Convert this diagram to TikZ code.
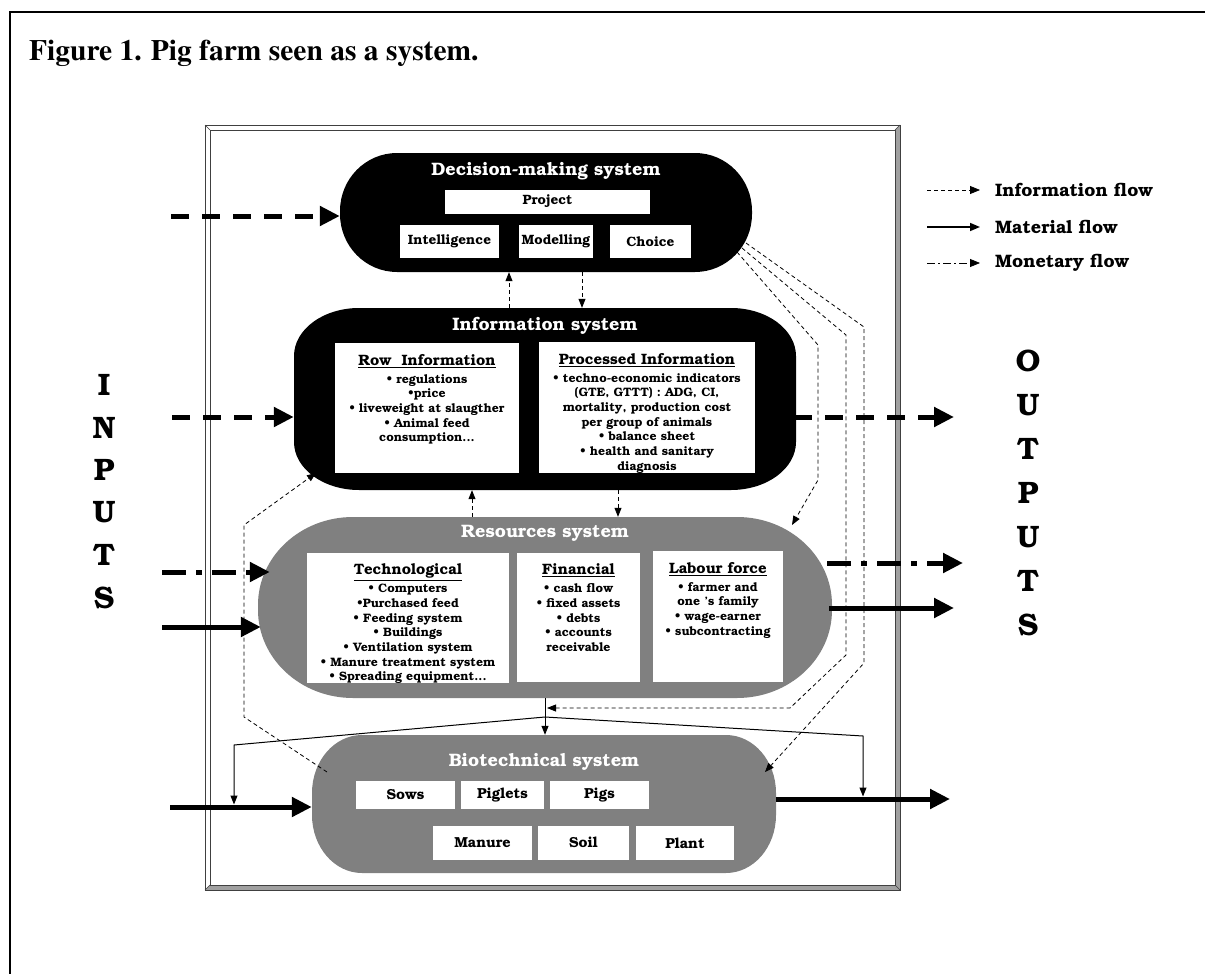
\documentclass[tikz,border=0pt]{standalone}
\usepackage[T1]{fontenc}
\usepackage{textcomp}
\usetikzlibrary{arrows.meta}
\newcommand\bkfont[2]{\fontfamily{pbk}\fontseries{b}\fontsize{#1}{#2}\selectfont}
% stadium with elliptical corners: x1 y1 x2 y2 rx ry style
\newcommand\ellrect[7]{%
  \fill[#7] (#1+#5,#2) -- (#3-#5,#2)
    .. controls (#3-0.4477*#5,#2) and (#3,#2+0.4477*#6) .. (#3,#2+#6) -- (#3,#4-#6)
    .. controls (#3,#4-0.4477*#6) and (#3-0.4477*#5,#4) .. (#3-#5,#4) -- (#1+#5,#4)
    .. controls (#1+0.4477*#5,#4) and (#1,#4-0.4477*#6) .. (#1,#4-#6) -- (#1,#2+#6)
    .. controls (#1,#2+0.4477*#6) and (#1+0.4477*#5,#2) .. (#1+#5,#2) -- cycle;}
\definecolor{sysgray}{HTML}{808080}
\definecolor{framegray}{HTML}{A0A0A0}
\tikzset{
  sysanchor/.style={draw=none, fill=none, inner sep=0pt},
  blackfill/.style={fill=black},
  grayfill/.style={fill=sysgray},
  wbox/.style={fill=white, draw=none, inner sep=0pt, font=\bkfont{13.5}{16}},
  biobox/.style={wbox, font=\bkfont{14.5}{17}},
  systitle/.style={text=white, inner sep=0pt, font=\bkfont{18}{21}},
  boxtext/.style={inner sep=0pt, align=center, anchor=north, font=\bkfont{12.2}{14.7}},
  boxhead/.style={},
  bigflow/.style={line width=5pt, -{Triangle[length=20pt,width=19pt]}},
  bigdash/.style={bigflow, dash pattern=on 18pt off 13pt},
  bigdashdot/.style={bigflow, dash pattern=on 24pt off 10pt on 6pt off 10pt},
  infoarrow/.style={line width=0.8pt, dash pattern=on 4pt off 3pt, -{Triangle[length=9pt,width=7pt]}},
  matarrow/.style={line width=1pt, -{Triangle[length=9pt,width=7pt]}},
  legdash/.style={line width=0.8pt, dash pattern=on 4pt off 3pt, -{Triangle[length=10pt,width=8pt]}},
  legsolid/.style={line width=1.6pt, -{Triangle[length=10pt,width=8pt]}},
  legdashdot/.style={line width=0.8pt, dash pattern=on 8pt off 3pt on 2pt off 3pt, -{Triangle[length=10pt,width=8pt]}},
  legtext/.style={anchor=west, inner sep=0pt, font=\bkfont{18}{21}},
  bigletter/.style={inner sep=0pt, font=\bkfont{31}{36}},
}
\newcommand\headline[1]{{\bkfont{15}{18}\underline{#1}}}
\begin{document}
\begin{tikzpicture}[x=1pt,y=-1pt]
\useasboundingbox (0,0) rectangle (1205,974);
\fill[white] (0,0) rectangle (1205,974);
% outer frame (cropped)
\draw[line width=2pt] (10,974) -- (10,12) -- (1205,12);
\node[anchor=base west, inner sep=0pt, font=\fontfamily{ptm}\fontseries{b}\fontsize{29.5}{34}\selectfont] (title) at (29,61) {Figure 1. Pig farm seen as a system.};

% bevelled inner frame
\fill[white] (205,125) -- (900,125) -- (895,130) -- (210,130) -- cycle;
\fill[white] (205,125) -- (210,130) -- (210,885) -- (205,890) -- cycle;
\fill[framegray] (205,890) -- (900,890) -- (895,885) -- (210,885) -- cycle;
\fill[framegray] (900,125) -- (900,890) -- (895,885) -- (895,130) -- cycle;
\draw[black!75, line width=0.9pt] (205,125) rectangle (900,890);
\draw[black!75, line width=0.9pt] (210,130) rectangle (895,885);
\draw[black!75, line width=0.6pt] (205,125) -- (210,130) (900,125) -- (895,130) (205,890) -- (210,885) (900,890) -- (895,885);

% system shapes
\ellrect{340}{153}{752}{272}{57}{58}{blackfill}
\ellrect{294}{308}{796}{490}{65}{48}{blackfill}
\ellrect{258}{517}{832}{698}{95}{88}{grayfill}
\ellrect{312}{735}{776}{873}{50}{58}{grayfill}

% Decision-making system
\node[sysanchor, minimum width=412, minimum height=119] (dec) at (546,212.5) {};
\node[systitle] (dect) at (546,171) {Decision-making system};
\node[wbox, minimum width=205, minimum height=24] (proj) at (547.5,201.5) {Project};
\node[wbox, minimum width=99, minimum height=33] (intel) at (449.5,241.5) {Intelligence};
\node[wbox, minimum width=74, minimum height=33] (model) at (556,241.5) {Modelling};
\node[wbox, minimum width=81, minimum height=33] (choice) at (650.5,241.5) {Choice};

% Information system
\node[sysanchor, minimum width=502, minimum height=182] (info) at (545,399) {};
\node[systitle] (infot) at (545,326) {Information system};
\node[wbox, minimum width=184, minimum height=130] (rowb) at (427,408) {};
\node[wbox, minimum width=216, minimum height=131] (procb) at (647,407.5) {};
\node[boxtext] (rowt) at (427,354) {\headline{Row\ \ Information}\\[3pt]
\textbullet\ regulations\\ \textbullet price\\ \textbullet\ liveweight at slaugther\\ \textbullet\ Animal feed\\ consumption...};
\node[boxtext] (proct) at (647,353) {\headline{Processed Information}\\[3pt]
\textbullet\ techno-economic indicators\\ (GTE, GTTT) : ADG, CI,\\ mortality, production cost\\ per group of animals\\ \textbullet\ balance sheet\\ \textbullet\ health and sanitary\\ diagnosis};

% Resources system
\node[sysanchor, minimum width=574, minimum height=181] (res) at (545,607.5) {};
\node[systitle] (rest) at (545,534) {Resources system};
\node[wbox, minimum width=202, minimum height=130] (techb) at (408,618) {};
\node[wbox, minimum width=123, minimum height=129] (finb) at (578.5,617.5) {};
\node[wbox, minimum width=130, minimum height=131] (labb) at (718,616.5) {};
\node[boxtext] (techt) at (408,564) {\headline{Technological}\\[3pt]
\textbullet\ Computers\\ \textbullet Purchased feed\\ \textbullet\ Feeding system\\ \textbullet\ Buildings\\ \textbullet\ Ventilation system\\ \textbullet\ Manure treatment system\\ \textbullet\ Spreading equipment...};
\node[boxtext] (fint) at (578.5,564) {\headline{Financial}\\[3pt]
\textbullet\ cash flow\\ \textbullet\ fixed assets\\ \textbullet\ debts\\ \textbullet\ accounts\\ receivable};
\node[boxtext] (labt) at (718,562) {\headline{Labour force}\\[3pt]
\textbullet\ farmer and\\ one 's family\\ \textbullet\ wage-earner\\ \textbullet\ subcontracting};

% Biotechnical system
\node[sysanchor, minimum width=464, minimum height=138] (bio) at (544,804) {};
\node[systitle] (biot) at (544,762) {Biotechnical system};
\node[biobox, minimum width=99, minimum height=28] (sows) at (405.5,795) {Sows};
\node[biobox, minimum width=83, minimum height=28] (piglets) at (502.5,795) {Piglets};
\node[biobox, minimum width=99, minimum height=28] (pigs) at (599.5,795) {Pigs};
\node[biobox, minimum width=99, minimum height=34] (manure) at (482.5,843) {Manure};
\node[biobox, minimum width=91, minimum height=34] (soil) at (583.5,843) {Soil};
\node[biobox, minimum width=98, minimum height=34] (plant) at (685,843) {Plant};

% INPUTS / OUTPUTS letters
\foreach \l [count=\i] in {I,N,P,U,T,S}
  \node[bigletter] (inl\i) at (104,{385+42.6*(\i-1)}) {\l};
\foreach \l [count=\i] in {O,U,T,P,U,T,S}
  \node[bigletter] (outl\i) at (1028,{361+44*(\i-1)}) {\l};

% legend
\coordinate (lg1) at (927,190);
\coordinate (lg2) at (927,227);
\coordinate (lg3) at (927,263);
\node[legtext] (lgt1) at (995,190) {Information flow};
\node[legtext] (lgt2) at (995,227) {Material flow};
\node[legtext] (lgt3) at (995,263) {Monetary flow};
\draw[legdash] (lg1) -- ([xshift=-15pt]lgt1.west);
\draw[legsolid] (lg2) -- ([xshift=-15pt]lgt2.west);
\draw[legdashdot] (lg3) -- ([xshift=-15pt]lgt3.west);

% thick input / output flows
\coordinate (pInD) at (171,216);
\coordinate (pInI) at (172,417);
\coordinate (pInRm) at (162,572);
\coordinate (pInRs) at (162,627);
\coordinate (pInB) at (170,807);
\coordinate (pOutI) at (954,417);
\coordinate (pOutRm) at (963,563);
\coordinate (pOutRs) at (954,608);
\coordinate (pOutB) at (950,799);
\draw[bigdash] (pInD) -- (pInD -| dec.west);
\draw[bigdash] (pInI) -- (pInI -| info.west);
\draw[bigdashdot] (pInRm) -- ([xshift=12pt]pInRm -| res.west);
\draw[bigflow] (pInRs) -- ([xshift=3pt]pInRs -| res.west);
\draw[bigflow] (pInB) -- (pInB -| bio.west);
\draw[bigdash] ([xshift=-2pt]pOutI -| info.east) -- (pOutI);
\draw[bigdashdot] ([xshift=-5pt]pOutRm -| res.east) -- (pOutRm);
\draw[bigflow] ([xshift=-3pt]pOutRs -| res.east) -- (pOutRs);
\draw[bigflow] (pOutB -| bio.east) -- (pOutB);

% information flows between systems
\coordinate (xa) at (509,0);
\coordinate (xb) at (582,0);
\coordinate (xc) at (472,0);
\coordinate (xd) at (618,0);
\draw[infoarrow] (info.north -| xa) -- (dec.south -| xa);
\draw[infoarrow] (dec.south -| xb) -- (info.north -| xb);
\draw[infoarrow] (res.north -| xc) -- (info.south -| xc);
\draw[infoarrow] (info.south -| xd) -- (res.north -| xd);

% left loop: biotechnical -> information
\coordinate (lp0) at (327,772);
\coordinate (lp1) at (244,717);
\coordinate (lp2) at (244,525);
\coordinate (lp3) at (316,473);
\draw[infoarrow] (lp0) -- (lp1) -- (lp2) -- (lp3);

% right loops from decision-making system
\coordinate (ra0) at (737,252);
\coordinate (ra1) at (818,345);
\coordinate (ra2) at (818,480);
\coordinate (ra3) at (792,525);
\draw[infoarrow] (ra0) -- (ra1) -- (ra2) -- (ra3);
\coordinate (rb0) at (742,248);
\coordinate (rb1) at (846,335);
\coordinate (rb2) at (846,655);
\coordinate (rb3) at (790,708);
\coordinate (rb4) at (547,708);
\draw[infoarrow] (rb0) -- (rb1) -- (rb2) -- (rb3) -- (rb4);
\coordinate (rc0) at (746,243);
\coordinate (rc1) at (864,327);
\coordinate (rc2) at (864,663);
\coordinate (rc3) at (765,772);
\draw[infoarrow] (rc0) -- (rc1) -- (rc2) -- (rc3);

% material flows from resources
\coordinate (br) at (545,717);
\coordinate (bl) at (234,745);
\coordinate (bri) at (863,736);
\draw[matarrow] (res.south) -- (res.south |- bio.north);
\draw[matarrow, shorten >=2.5pt] (br) -- (bl) -- (bl |- pInB);
\draw[matarrow, shorten >=2.5pt] (br) -- (bri) -- (bri |- pOutB);
\end{tikzpicture}
\end{document}
